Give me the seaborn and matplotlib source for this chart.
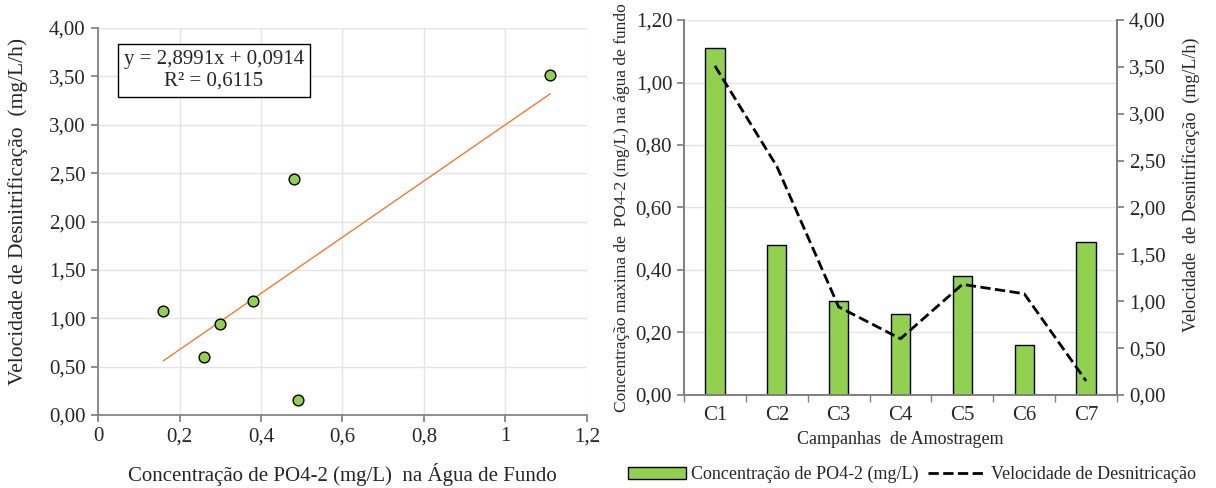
import numpy as np
import pandas as pd
import matplotlib
matplotlib.use("Agg")
import matplotlib.pyplot as plt
from matplotlib.patches import Patch
from matplotlib.lines import Line2D
import seaborn as sns

# data
campanhas = ["C1", "C2", "C3", "C4", "C5", "C6", "C7"]
po4 = [1.11, 0.48, 0.30, 0.26, 0.38, 0.16, 0.49]
velocidade = [3.51, 2.44, 0.94, 0.60, 1.18, 1.08, 0.15]
eq_text = "y = 2,8991x + 0,0914\nR² = 0,6115"

df = pd.DataFrame({"camp": campanhas, "po4": po4, "vel": velocidade})

sns.set_theme(style="white")
plt.rcParams["font.family"] = ["Liberation Serif", "DejaVu Serif"]

green = "#92D050"
grid_c = "#E4E4E4"
spine_c = "#808080"
fmt = lambda v, p: f"{v:.2f}".replace(".", ",")

fig = plt.figure(figsize=(12.16, 4.88), dpi=100)

# ---- left: scatter + trendline
ax1 = fig.add_axes([0.0806, 0.1496, 0.4021, 0.793])
sns.regplot(data=df, x="po4", y="vel", scatter=False, ci=None, truncate=True,
            line_kws={"color": "#ED7D31", "lw": 1}, ax=ax1)
sns.scatterplot(data=df, x="po4", y="vel", color=green, edgecolor="black",
                 linewidth=1, s=60, zorder=3, ax=ax1)
ax1.set_xlim(0, 1.2)
ax1.set_ylim(0, 4)
ax1.set_xticks(np.arange(0, 1.21, 0.2))
ax1.set_yticks(np.arange(0, 4.01, 0.5))
ax1.xaxis.set_major_formatter(lambda v, p: ("%g" % round(v, 1)).replace(".", ","))
ax1.yaxis.set_major_formatter(fmt)
ax1.grid(True, color=grid_c, lw=1)
ax1.set_axisbelow(True)
for s in ["top", "right"]:
    ax1.spines[s].set_visible(False)
for s in ["left", "bottom"]:
    ax1.spines[s].set_color(spine_c)
ax1.tick_params(axis="both", labelsize=15, length=5, direction="out", color=spine_c,
                bottom=True, left=True, pad=4)
ax1.set_xlabel("Concentração de PO4-2 (mg/L)  na Água de Fundo", fontsize=15, labelpad=12)
ax1.set_ylabel("Velocidade de Desnitrificação  (mg/L/h)", fontsize=15.5)
ax1.yaxis.set_label_coords(-0.143, 0.527)
ax1.text(0.237, 0.89, eq_text, transform=ax1.transAxes, ha="center", va="center",
         fontsize=15, linespacing=1.2,
         bbox=dict(boxstyle="square,pad=0.3", fc="white", ec="black", lw=1))

# ---- right: bars + dashed line on twin axis
ax2 = fig.add_axes([0.5625, 0.1906, 0.3561, 0.7684])
sns.barplot(data=df, x="camp", y="po4", color=green, edgecolor="black",
            linewidth=1, width=0.31, saturation=1, ax=ax2)
ax2.set_ylim(0, 1.2)
ax2.set_yticks(np.arange(0, 1.21, 0.2))
ax2.yaxis.set_major_formatter(fmt)
ax2.yaxis.grid(True, color=grid_c, lw=1)
ax2.set_axisbelow(True)
ax2.set_xlim(-0.5, 6.5)
ax2.set_xticks(np.arange(-0.5, 6.6, 1), minor=True)
ax2.tick_params(axis="x", which="major", length=0, labelsize=15, pad=8)
ax2.tick_params(axis="x", which="minor", length=5, color=spine_c, bottom=True)
ax2.tick_params(axis="y", labelsize=15, length=5, color=spine_c, left=True)
ax2.set_xlabel("Campanhas  de Amostragem", fontsize=13)
ax2.set_ylabel("Concentração maxima de  PO4-2 (mg/L) na água de fundo", fontsize=12.5, labelpad=4)
ax2.spines["top"].set_visible(False)
for s in ["left", "bottom", "right"]:
    ax2.spines[s].set_color(spine_c)

ax3 = ax2.twinx()
sns.lineplot(data=df, x="camp", y="vel", color="black", linestyle="--", lw=2,
             sort=False, ax=ax3)
ax3.set_ylim(0, 4)
ax3.set_yticks(np.arange(0, 4.01, 0.5))
ax3.yaxis.set_major_formatter(fmt)
ax3.tick_params(axis="y", labelsize=15, length=5, color=spine_c, right=True)
ax3.set_ylabel("Velocidade  de Desnitrificação  (mg/L/h)", fontsize=13)
ax3.yaxis.set_label_coords(1.15, 0.56)
ax3.spines["top"].set_visible(False)
for s in ["left", "bottom", "right"]:
    ax3.spines[s].set_color(spine_c)

handles = [Patch(facecolor=green, edgecolor="black", lw=1),
           Line2D([], [], color="black", linestyle="--", lw=2)]
fig.legend(handles, ["Concentração de PO4-2 (mg/L)", "Velocidade de Desnitricação"],
           loc="center", bbox_to_anchor=(0.75, 0.027), ncol=2, frameon=False,
           fontsize=13, handlelength=3.2, handletextpad=0.3, columnspacing=0.5)

fig.savefig("out.png", dpi=100)
